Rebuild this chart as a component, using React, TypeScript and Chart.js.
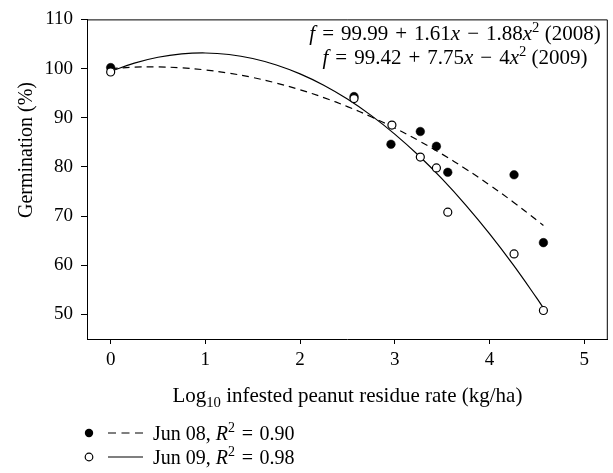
import React, { useEffect, useRef } from "react";
import { Chart, registerables } from "chart.js";

Chart.register(...registerables);

// Observed data points
const xJun08 = [0, 2.57, 2.96, 3.27, 3.44, 3.56, 4.26, 4.57];
const germJun08 = [100.2, 94.3, 84.6, 87.2, 84.2, 78.9, 78.4, 64.6];
const xJun09 = [0, 2.57, 2.97, 3.27, 3.44, 3.56, 4.26, 4.57];
const germJun09 = [99.3, 93.9, 88.5, 82.0, 79.8, 70.8, 62.3, 50.8];

// Fitted curves
const curveX = [0, 0.25, 0.5, 0.75, 1, 1.25, 1.5, 1.75, 2, 2.25, 2.5, 2.75, 3, 3.25, 3.5, 3.75, 4, 4.25, 4.5, 4.57];
const fit2008 = [99.99, 100.28, 100.33, 100.14, 99.72, 99.07, 98.18, 97.05, 95.69, 94.1, 92.27, 90.2, 87.9, 85.37, 82.6, 79.59, 76.35, 72.88, 69.17, 68.09];
const fit2009 = [99.42, 101.11, 102.3, 102.98, 103.17, 102.86, 102.05, 100.73, 98.92, 96.61, 93.8, 90.48, 86.67, 82.36, 77.55, 72.23, 66.42, 60.11, 53.3, 51.3];

const xTicks = [0, 1, 2, 3, 4, 5];
const yTicks = [50, 60, 70, 80, 90, 100, 110];

const FONT = "'Liberation Serif', 'DejaVu Serif', serif";
const SP = "\u2004";

type Run = { t: string; it?: boolean; sup?: boolean; sub?: boolean };

function drawRuns(ctx: CanvasRenderingContext2D, runs: Run[], x: number, y: number, size: number, align: "left" | "center") {
  const fontFor = (r: Run) => {
    const s = r.sup || r.sub ? size * 0.7 : size;
    return `${r.it ? "italic " : ""}${s}px ${FONT}`;
  };
  let total = 0;
  for (const r of runs) {
    ctx.font = fontFor(r);
    total += ctx.measureText(r.t).width;
  }
  let cx = align === "center" ? x - total / 2 : x;
  ctx.textBaseline = "alphabetic";
  ctx.textAlign = "left";
  for (const r of runs) {
    ctx.font = fontFor(r);
    const dy = r.sup ? -size * 0.4 : r.sub ? size * 0.25 : 0;
    ctx.fillText(r.t, cx, y + dy);
    cx += ctx.measureText(r.t).width;
  }
}

const decorPlugin = {
  id: "decor",
  afterDraw(chart: any) {
    const ctx: CanvasRenderingContext2D = chart.ctx;
    const a = chart.chartArea;
    ctx.save();
    ctx.strokeStyle = "#000";
    ctx.lineWidth = 1;
    ctx.beginPath();
    ctx.moveTo(a.left, a.top + 0.5);
    ctx.lineTo(a.right - 0.5, a.top + 0.5);
    ctx.lineTo(a.right - 0.5, a.bottom);
    ctx.stroke();

    ctx.fillStyle = "#000";
    // equations
    drawRuns(ctx, [
      { t: "f", it: true }, { t: `${SP}=${SP}99.99${SP}+${SP}1.61` }, { t: "x", it: true }, { t: `${SP}\u2212${SP}1.88` }, { t: "x", it: true }, { t: "2", sup: true }, { t: " (2008)" },
    ], 455, 40, 21, "center");
    drawRuns(ctx, [
      { t: "f", it: true }, { t: `${SP}=${SP}99.42${SP}+${SP}7.75` }, { t: "x", it: true }, { t: `${SP}\u2212${SP}4` }, { t: "x", it: true }, { t: "2", sup: true }, { t: " (2009)" },
    ], 455, 64, 21, "center");

    // x title
    drawRuns(ctx, [{ t: "Log" }, { t: "10", sub: true }, { t: " infested peanut residue rate (kg/ha)" }], (a.left + a.right) / 2, 402, 21, "center");

    // y title
    ctx.save();
    ctx.translate(32, 150);
    ctx.rotate(-Math.PI / 2);
    drawRuns(ctx, [{ t: "Germination (%)" }], 0, 0, 20, "center");
    ctx.restore();

    // legend
    const rows = [
      { y: 433, filled: true, dash: [8, 5.5], label: "Jun 08, ", r2: `${SP}=${SP}0.90` },
      { y: 457, filled: false, dash: [], label: "Jun 09, ", r2: `${SP}=${SP}0.98` },
    ];
    for (const row of rows) {
      ctx.beginPath();
      ctx.arc(89, row.y, row.filled ? 4.2 : 3.8, 0, Math.PI * 2);
      if (row.filled) {
        ctx.fill();
      } else {
        ctx.lineWidth = 1.2;
        ctx.stroke();
      }
      ctx.beginPath();
      ctx.lineWidth = 1.2;
      ctx.setLineDash(row.dash);
      ctx.moveTo(108, row.y);
      ctx.lineTo(143, row.y);
      ctx.stroke();
      ctx.setLineDash([]);
      drawRuns(ctx, [{ t: row.label }, { t: "R", it: true }, { t: "2", sup: true }, { t: row.r2 }], 153, row.y + 7, 20, "left");
    }
    ctx.restore();
  },
};

export default function App() {
  const ref = useRef<HTMLCanvasElement>(null);
  useEffect(() => {
    if (!ref.current) return;
    const tickFont = { family: FONT, size: 19 };
    const chart = new Chart(ref.current, {
      type: "scatter",
      data: {
        datasets: [
          {
            label: "Jun 08 pts",
            data: xJun08.map((x, i) => ({ x, y: germJun08[i] })),
            pointRadius: 4.3,
            pointBackgroundColor: "#000",
            pointBorderColor: "#000",
            pointBorderWidth: 0.5,
            showLine: false,
            order: 1,
          },
          {
            label: "Jun 09 pts",
            data: xJun09.map((x, i) => ({ x, y: germJun09[i] })),
            pointRadius: 4,
            pointBackgroundColor: "#fff",
            pointBorderColor: "#000",
            pointBorderWidth: 1.2,
            showLine: false,
            order: 0,
          },
          {
            label: "2008 fit",
            data: curveX.map((x, i) => ({ x, y: fit2008[i] })),
            showLine: true,
            borderColor: "#000",
            borderWidth: 1.2,
            borderDash: [7, 5],
            pointRadius: 0,
            tension: 0.4,
            order: 3,
          },
          {
            label: "2009 fit",
            data: curveX.map((x, i) => ({ x, y: fit2009[i] })),
            showLine: true,
            borderColor: "#000",
            borderWidth: 1.2,
            pointRadius: 0,
            tension: 0.4,
            order: 2,
          },
        ],
      },
      options: {
        animation: false,
        responsive: false,
        layout: { padding: { top: 13, right: 2, left: 0, bottom: 0 } },
        plugins: { legend: { display: false }, tooltip: { enabled: false } },
        scales: {
          x: {
            type: "linear",
            min: -0.25,
            max: 5.25,
            afterBuildTicks: (s: any) => {
              s.ticks = xTicks.map((v) => ({ value: v }));
            },
            afterFit: (s: any) => {
              s.height = 134;
            },
            grid: { display: true, drawOnChartArea: false, drawTicks: true, tickLength: 5, color: "#000" },
            border: { display: true, color: "#000", width: 1 },
            ticks: { color: "#000", font: tickFont, padding: 5, maxRotation: 0 },
          },
          y: {
            type: "linear",
            min: 45,
            max: 110,
            afterBuildTicks: (s: any) => {
              s.ticks = yTicks.map((v) => ({ value: v }));
            },
            afterFit: (s: any) => {
              s.width = 87;
            },
            grid: { display: true, drawOnChartArea: false, drawTicks: true, tickLength: 6, color: "#000" },
            border: { display: true, color: "#000", width: 1 },
            ticks: { color: "#000", font: tickFont, padding: 8 },
          },
        },
      },
      plugins: [decorPlugin],
    } as any);
    return () => chart.destroy();
  }, []);
  return (
    <canvas
      ref={ref}
      width={613}
      height={473}
      style={{ position: "absolute", left: 0, top: 0, width: 613, height: 473, background: "#fff" }}
    />
  );
}
